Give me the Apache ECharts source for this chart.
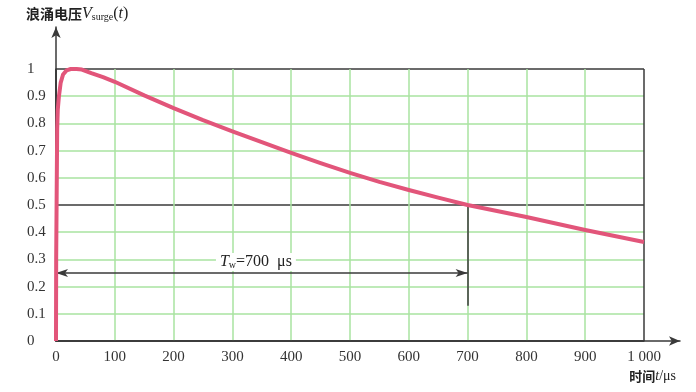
<!DOCTYPE html>
<html>
<head>
<meta charset="utf-8">
<script src="https://cdn.jsdelivr.net/npm/echarts@6/dist/echarts.min.js"></script>
<style>html,body{margin:0;padding:0;background:#fff}#c{width:696px;height:392px}</style>
</head>
<body>
<div id="c"></div>
<script>
// time in microseconds
var timeUs = [0, 0.3, 1, 2, 3, 5, 8, 12, 18, 25, 35, 44, 60, 80, 100, 150, 200, 250, 300, 350, 400, 450, 500, 550, 600, 650, 700, 750, 800, 850, 900, 950, 1000];
// surge voltage (normalized)
var surgeV = [0, 0.3, 0.5, 0.78, 0.85, 0.9, 0.95, 0.98, 0.995, 1.0, 1.0, 0.998, 0.985, 0.97, 0.953, 0.903, 0.856, 0.812, 0.771, 0.731, 0.692, 0.654, 0.618, 0.585, 0.555, 0.527, 0.5, 0.478, 0.456, 0.432, 0.408, 0.386, 0.364];
var xTickLabels = ['0', '100', '200', '300', '400', '500', '600', '700', '800', '900', '1 000'];
var yTickLabels = ['0', '0.1', '0.2', '0.3', '0.4', '0.5', '0.6', '0.7', '0.8', '0.9', '1'];
// annotation: Tw = 700 us
var twValue = 700;
var twArrowLevel = 0.25;
var twMarkerBottom = 0.13;
var halfLevel = 0.5;
var twLabelPos = [340, 0.29];

var serif = '"Liberation Serif", "DejaVu Serif", serif';
var cjk = '"Noto Sans CJK SC", sans-serif';
var green = '#a9e3a0';
var dark = '#3a3a3a';

var chart = echarts.init(document.getElementById('c'));
chart.setOption({
  animation: false,
  backgroundColor: '#ffffff',
  title: [{
    left: 21, top: 1,
    text: '{cn|浪涌电压}{v|V}{s|surge}{p|(}{v|t}{p|)}',
    textStyle: {
      fontWeight: 'normal',
      rich: {
        cn: {fontFamily: cjk, fontSize: 14, color: '#222', fontWeight: 'bold'},
        v: {fontFamily: serif, fontStyle: 'italic', fontWeight: 'normal', fontSize: 16, color: '#222'},
        s: {fontFamily: serif, fontWeight: 'normal', fontSize: 10, color: '#222', verticalAlign: 'bottom', padding: [6, 0, 0, 0]},
        p: {fontFamily: serif, fontWeight: 'normal', fontSize: 16, color: '#222'}
      }
    }
  }, {
    right: 15, bottom: 4,
    text: '{cn|时间}{v|t}{p|/μs}',
    textStyle: {
      fontWeight: 'normal',
      rich: {
        cn: {fontFamily: cjk, fontSize: 13, color: '#222', fontWeight: 'bold'},
        v: {fontFamily: serif, fontStyle: 'italic', fontWeight: 'normal', fontSize: 14, color: '#222'},
        p: {fontFamily: serif, fontWeight: 'normal', fontSize: 14, color: '#222'}
      }
    }
  }],
  grid: [
    {left: 56, right: 52, top: 69, bottom: 51},
    {left: 56, right: 16, top: 27, bottom: 51}
  ],
  xAxis: [{
    gridIndex: 0, type: 'value', min: 0, max: 1000, interval: 100,
    axisLine: {show: true, lineStyle: {color: dark, width: 1.5}},
    axisTick: {show: false},
    axisLabel: {
      margin: 9, fontFamily: serif, fontSize: 15, color: '#333',
      formatter: function (v) { return xTickLabels[Math.round(v / 100)]; }
    },
    splitLine: {show: true, lineStyle: {width: 1.5, color: [dark, green, green, green, green, green, green, green, green, green, dark]}}
  }, {
    gridIndex: 1, type: 'value', min: 0, max: 1,
    axisLine: {show: true, symbol: ['none', 'arrow'], symbolSize: [7, 11], lineStyle: {color: dark, width: 1.5}},
    axisTick: {show: false}, axisLabel: {show: false}, splitLine: {show: false}
  }],
  yAxis: [{
    gridIndex: 0, type: 'value', min: 0, max: 1, interval: 0.1,
    axisLine: {show: true, lineStyle: {color: dark, width: 1.5}},
    axisTick: {show: false},
    axisLabel: {
      margin: 29, align: 'left', fontFamily: serif, fontSize: 15, color: '#333',
      formatter: function (v) { return yTickLabels[Math.round(v * 10)]; }
    },
    splitLine: {show: true, lineStyle: {width: 1.5, color: [dark, green, green, green, green, dark, green, green, green, green, dark]}}
  }, {
    gridIndex: 1, type: 'value', min: 0, max: 1,
    axisLine: {show: true, symbol: ['none', 'arrow'], symbolSize: [7, 11], lineStyle: {color: dark, width: 1.5}},
    axisTick: {show: false}, axisLabel: {show: false}, splitLine: {show: false}
  }],
  series: [{
    type: 'line',
    xAxisIndex: 0, yAxisIndex: 0,
    data: timeUs.map(function (t, i) { return [t, surgeV[i]]; }),
    showSymbol: false,
    smooth: false,
    lineStyle: {color: '#e2557a', width: 4, join: 'round'},
    z: 5,
    markLine: {
      silent: true,
      symbol: ['none', 'none'],
      lineStyle: {color: dark, width: 1.5, type: 'solid'},
      label: {show: false},
      data: [
        [{coord: [twValue, twMarkerBottom], symbol: 'none'}, {coord: [twValue, halfLevel], symbol: 'none'}],
        [{coord: [0, twArrowLevel], symbol: 'arrow', symbolSize: [6, 12]}, {coord: [twValue, twArrowLevel], symbol: 'arrow', symbolSize: [6, 12]}]
      ]
    },
    markPoint: {
      silent: true,
      symbol: 'rect', symbolSize: 0,
      data: [{
        coord: twLabelPos,
        label: {
          show: true, position: 'inside',
          backgroundColor: '#fff', padding: [1, 4],
          formatter: '{v|T}{s|w}{p|=700  μs}',
          rich: {
            v: {fontFamily: serif, fontStyle: 'italic', fontSize: 16, color: '#222'},
            s: {fontFamily: serif, fontSize: 10, color: '#222', verticalAlign: 'bottom', padding: [6, 0, 0, 0]},
            p: {fontFamily: serif, fontSize: 16, color: '#222'}
          }
        }
      }]
    }
  }]
});
</script>
</body>
</html>
